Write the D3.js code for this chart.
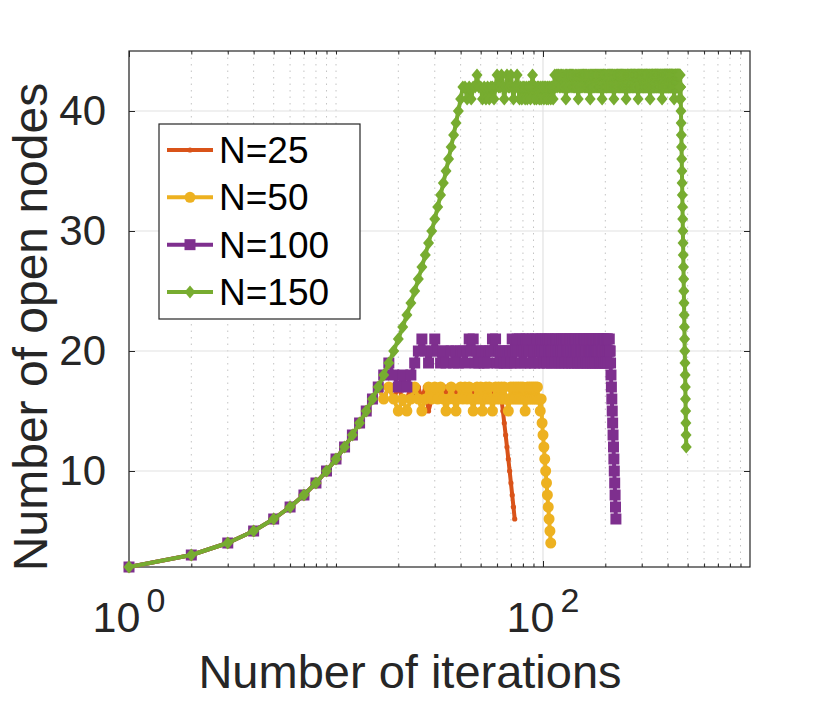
<!DOCTYPE html>
<html>
<head>
<meta charset="utf-8">
<script src="https://cdn.jsdelivr.net/npm/d3@7"></script>
<style>
  body { margin: 0; background: #fff; }
  text { font-family: "Liberation Sans", Arial, Helvetica, sans-serif; }
</style>
</head>
<body>
<svg width="830" height="702"></svg>
<script>
// ---- data: open nodes per iteration (iteration = index + 1) ----
const seriesNames = ['N=25', 'N=50', 'N=100', 'N=150'];

const nodesN25 = [
  2,3,4,5,6,7,8,9,10,11,12,13,14,15,16,
  17,16,17,16,17,16,16,17,16,17,
  16,17,15,16,17,16,17,16,17,16,
  17,16,17,16,17,16,16,17,16,17,
  16,17,16,17,16,16,17,16,17,16,
  17,16,17,16,17,16,17,16,
  15,14,13,12,11,10,9,8,7,6
];

const nodesN50 = [
  2,3,4,5,6,7,8,9,10,11,12,13,14,15,16,
  17,16,17,16,15,16,15,16,17,16,
  15,16,17,16,17,16,17,16,15,16,
  17,16,15,16,17,16,17,16,17,16,
  15,16,17,16,17,15,16,17,16,17,
  16,15,16,17,16,17,16,17,16,17,
  16,16,15,16,17,16,17,16,17,16,
  17,16,17,16,17,16,15,16,17,16,
  17,16,17,16,17,16,17,16,17,16,
  16,15,16,
  14,13,12,11,10,9,8,7,6,5,4
];

const nodesN100 = [
  2,3,4,5,6,7,8,9,10,11,12,13,14,15,16,17,
  18,19,18,17,18,17,18,
  19,20,21,20,19,20,21,20,19,20,
  19,20,20,19,20,19,20,20,19,20,
  21,20,21,19,20,19,20,20,19,20,
  19,20,20,21,20,21,19,20,19,20,
  20,19,20,19,20,20,19,
  21,20,19,20,21,20,21,19,20,21,20,19,21,20,21,20,19,20,21,20,
  19,21,20,21,20,19,20,21,20,21,19,20,21,20,19,21,20,21,20,19,
  20,21,20,19,21,20,21,20,19,20,21,20,21,19,20,21,20,19,21,20,
  21,20,19,20,21,20,21,19,20,21,20,19,21,20,21,20,19,20,21,20,
  19,21,20,21,20,19,20,21,20,21,19,20,21,20,19,21,20,21,20,19,
  20,21,20,19,21,20,21,20,19,20,21,20,21,19,20,21,20,19,21,20,
  21,20,19,20,21,20,21,19,20,21,20,19,21,20,21,20,19,20,21,20,
  20,
  19,18,17,16,15,14,13,12,11,10,9,8,7,6
];

const nodesN150 = [
  2,3,4,5,6,7,8,9,10,11,12,13,14,15,16,17,18,19,20,21,
  22,23,24,25,26,27,28,29,30,31,32,33,34,35,36,37,38,39,40,41,42,
  42,41,42,41,42,42,43,42,42,41,
  42,41,42,41,42,42,41,42,43,42,
  42,43,42,41,42,43,42,42,43,42,
  41,42,42,43,42,41,42,41,42,42,
  41,42,41,42,42,41,42,43,42,41,
  42,41,42,42,41,42,41,42,42,41,
  42,42,41,42,41,42,42,41,42,42,
  41,42,
  43,42,43,42,43,43,42,43,42,43,42,43,42,42,43,41,43,42,43,42,
  43,42,43,43,42,43,42,43,42,42,43,42,43,42,41,43,42,43,42,43,
  42,43,42,43,43,42,43,42,43,42,42,43,42,43,42,41,43,42,43,42,
  43,42,43,42,43,43,42,43,42,43,42,43,42,42,43,42,43,42,43,41,
  43,42,43,43,42,43,42,43,42,42,43,42,43,42,43,43,42,43,42,43,
  42,43,42,43,43,42,41,42,43,42,42,43,42,43,42,43,43,42,43,42,
  43,42,43,42,43,43,42,43,42,43,42,43,42,42,43,42,43,42,41,42,
  43,42,43,43,42,43,42,43,42,42,43,42,43,42,43,43,42,43,42,43,
  42,43,42,43,43,42,43,42,43,42,42,43,42,43,41,43,43,42,43,42,
  43,42,43,42,43,43,42,43,42,43,42,43,42,42,43,42,43,42,43,42,
  43,42,43,43,42,43,42,43,42,42,43,42,43,42,43,41,42,43,42,43,
  42,43,42,43,43,42,43,42,43,42,42,43,42,43,42,43,43,42,43,42,
  43,42,43,42,43,43,42,43,42,43,42,43,42,42,43,42,43,42,43,42,
  43,42,41,43,42,43,42,43,42,42,43,42,43,42,43,43,42,43,42,43,
  42,43,42,43,43,42,43,42,43,42,42,43,42,43,42,43,43,42,43,42,
  43,42,43,42,43,43,42,43,42,43,42,43,42,42,43,42,41,42,43,42,
  43,42,43,43,42,43,42,43,42,42,43,42,43,42,43,43,42,43,42,43,
  42,43,42,43,41,42,43,42,42,
  41,40,39,38,37,36,35,34,33,32,31,30,29,28,27,26,25,24,23,22,
  21,20,19,18,17,16,15,14,13,12
];

// ticks
const xMajorTicks = [1, 100];
const xMinorTicks = [2,3,4,5,6,7,8,9,10,20,30,40,50,60,70,80,90,200,300,400,500,600,700,800,900];
const yTicks = [10, 20, 30, 40];

// ---- setup ----
const svg = d3.select('svg');
const width = +svg.attr('width');
const height = +svg.attr('height');

const plot = { left: 129, right: 750, top: 51, bottom: 567 };
const textColor = '#262626';

const x = d3.scaleLog().domain([1, 1000]).range([plot.left, plot.right]);
const y = d3.scaleLinear().domain([2, 45]).range([plot.bottom, plot.top]);

// minor (dotted) x grid
svg.append('g')
  .selectAll('line')
  .data(xMinorTicks)
  .join('line')
    .attr('x1', d => x(d)).attr('x2', d => x(d))
    .attr('y1', plot.top).attr('y2', plot.bottom)
    .attr('stroke', '#c4c4c4')
    .attr('stroke-width', 1)
    .attr('stroke-dasharray', '1.5,5');

// major grid
svg.append('g')
  .selectAll('line')
  .data(yTicks)
  .join('line')
    .attr('x1', plot.left).attr('x2', plot.right)
    .attr('y1', d => y(d)).attr('y2', d => y(d))
    .attr('stroke', '#e2e2e2')
    .attr('stroke-width', 1.2);

svg.append('g')
  .selectAll('line')
  .data(xMajorTicks)
  .join('line')
    .attr('x1', d => x(d)).attr('x2', d => x(d))
    .attr('y1', plot.top).attr('y2', plot.bottom)
    .attr('stroke', '#e2e2e2')
    .attr('stroke-width', 1.2);

// axes: ticks point inwards, box on
const axisStyle = g => {
  g.select('.domain').remove();
  g.selectAll('.tick line').attr('stroke', textColor);
};

svg.append('g')
  .attr('transform', `translate(0,${plot.bottom})`)
  .call(d3.axisBottom(x).tickValues(xMajorTicks).tickSize(-6).tickFormat(''))
  .call(axisStyle);
svg.append('g')
  .attr('transform', `translate(0,${plot.bottom})`)
  .call(d3.axisBottom(x).tickValues(xMinorTicks).tickSize(-3.5).tickFormat(''))
  .call(axisStyle);
svg.append('g')
  .attr('transform', `translate(0,${plot.top})`)
  .call(d3.axisTop(x).tickValues(xMajorTicks).tickSize(-6).tickFormat(''))
  .call(axisStyle);
svg.append('g')
  .attr('transform', `translate(0,${plot.top})`)
  .call(d3.axisTop(x).tickValues(xMinorTicks).tickSize(-3.5).tickFormat(''))
  .call(axisStyle);

svg.append('g')
  .attr('transform', `translate(${plot.left},0)`)
  .call(d3.axisLeft(y).tickValues(yTicks).tickSize(-6).tickPadding(23))
  .call(axisStyle)
  .call(g => g.selectAll('.tick text')
    .attr('fill', textColor)
    .attr('font-size', 42)
    .attr('font-family', '"Liberation Sans", Arial, sans-serif'));
svg.append('g')
  .attr('transform', `translate(${plot.right},0)`)
  .call(d3.axisRight(y).tickValues(yTicks).tickSize(-6).tickFormat(''))
  .call(axisStyle);

// box
svg.append('rect')
  .attr('x', plot.left)
  .attr('y', plot.top)
  .attr('width', plot.right - plot.left)
  .attr('height', plot.bottom - plot.top)
  .attr('fill', 'none')
  .attr('stroke', textColor)
  .attr('stroke-width', 1.2);

// x tick labels 10^k
const xLabels = svg.append('g')
  .selectAll('text')
  .data(xMajorTicks)
  .join('text')
    .attr('x', d => x(d))
    .attr('y', 632)
    .attr('text-anchor', 'middle')
    .attr('fill', textColor)
    .attr('font-size', 43);
xLabels.append('tspan').text('10');
xLabels.append('tspan')
  .attr('dx', 6)
  .attr('dy', -20)
  .attr('font-size', 34)
  .text(d => Math.round(Math.log10(d)));

// axis titles
svg.append('text')
  .attr('x', 410)
  .attr('y', 688)
  .attr('text-anchor', 'middle')
  .attr('fill', textColor)
  .attr('font-size', 47)
  .text('Number of iterations');

svg.append('text')
  .attr('transform', 'translate(47,327) rotate(-90)')
  .attr('text-anchor', 'middle')
  .attr('fill', textColor)
  .attr('font-size', 48)
  .text('Number of open nodes');

// ---- series ----
const markers = {
  dot: 'M-2.6,0a2.6,2.6 0 1,0 5.2,0a2.6,2.6 0 1,0 -5.2,0Z',
  circle: 'M-5.5,0a5.5,5.5 0 1,0 11,0a5.5,5.5 0 1,0 -11,0Z',
  square: 'M-5.5,-5.5H5.5V5.5H-5.5Z',
  diamond: 'M0,-6.5L5.5,0L0,6.5L-5.5,0Z'
};

const series = [
  { name: seriesNames[0], values: nodesN25, color: '#D95319', marker: markers.dot },
  { name: seriesNames[1], values: nodesN50, color: '#EDB120', marker: markers.circle },
  { name: seriesNames[2], values: nodesN100, color: '#7E2F8E', marker: markers.square },
  { name: seriesNames[3], values: nodesN150, color: '#77AC30', marker: markers.diamond }
];

const line = d3.line()
  .x((d, i) => x(i + 1))
  .y(d => y(d));

series.forEach(s => {
  const g = svg.append('g');
  g.append('path')
    .attr('d', line(s.values))
    .attr('fill', 'none')
    .attr('stroke', s.color)
    .attr('stroke-width', 4)
    .attr('stroke-linejoin', 'round');
  g.selectAll('path.m')
    .data(s.values)
    .join('path')
      .attr('class', 'm')
      .attr('d', s.marker)
      .attr('transform', (d, i) => `translate(${x(i + 1)},${y(d)})`)
      .attr('fill', s.color);
});

// ---- legend ----
const legend = svg.append('g');
legend.append('rect')
  .attr('x', 159).attr('y', 124)
  .attr('width', 201).attr('height', 195)
  .attr('fill', '#fff')
  .attr('stroke', textColor)
  .attr('stroke-width', 1.2);

const rowY = d3.scalePoint().domain(seriesNames).range([150, 292]);

const items = legend.selectAll('g.item')
  .data(series)
  .join('g')
    .attr('class', 'item')
    .attr('transform', d => `translate(0,${rowY(d.name)})`);
items.append('line')
  .attr('x1', 167).attr('x2', 213)
  .attr('stroke', d => d.color)
  .attr('stroke-width', 4);
items.append('path')
  .attr('d', d => d.marker)
  .attr('transform', 'translate(190,0)')
  .attr('fill', d => d.color);
items.append('text')
  .attr('x', 219)
  .attr('y', 13)
  .attr('fill', '#000')
  .attr('font-size', 37)
  .text(d => d.name);
</script>
</body>
</html>
